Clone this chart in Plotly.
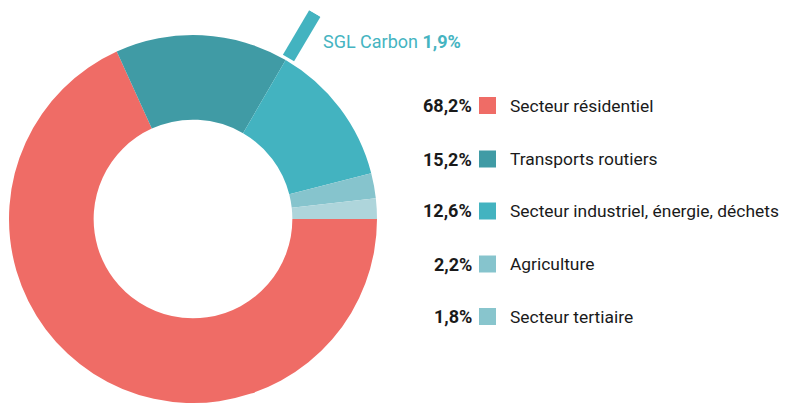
import math
import plotly.graph_objects as go

# ---- data ----
sectors = ["Secteur résidentiel", "Transports routiers",
           "Secteur industriel, énergie, déchets", "Agriculture", "Secteur tertiaire"]
shares = [68.2, 15.2, 12.6, 2.2, 1.8]
share_labels = ["68,2%", "15,2%", "12,6%", "2,2%", "1,8%"]
slice_colors = ["#EF6C66", "#409BA5", "#43B3C0", "#86C4CD", "#AED5DB"]
legend_colors = ["#EF6C66", "#409BA5", "#43B3C0", "#86C4CD", "#88C5CD"]
sgl_name = "SGL Carbon"
sgl_share = 1.9
sgl_label = "1,9%"
sgl_color = "#43B3C0"

OFF = 8  # page body margin
W, H = 793 - OFF, 403 - OFF
FONT = "Roboto"

def px(x):
    return (x - OFF) / W

def py(y):
    return 1 - (y - OFF) / H

# donut: centre (193, 219) on screen, radius 184
CX, CY, R = 193, 219, 184
dom_x = [px(CX - R), px(CX + R)]
dom_y = [max(0, py(CY + R)), py(CY - R)]

fig = go.Figure()
fig.add_trace(go.Pie(
    labels=sectors, values=shares, sort=False, direction="clockwise",
    rotation=90, hole=0.54, domain=dict(x=dom_x, y=dom_y),
    marker=dict(colors=slice_colors, line=dict(color="white", width=0)),
    textinfo="none", hoverinfo="label+percent", showlegend=False,
))

# SGL Carbon callout bar: sits on the start of the industrial slice
start_industrial = sum(shares[:2]) / sum(shares) * 360
RMAX = 1.3
SECT = 62
pr = R * RMAX
fig.add_trace(go.Scatterpolar(
    r=[1.018, 1.30], theta=[start_industrial + 0.4, start_industrial + 0.4],
    mode="lines", line=dict(color=sgl_color, width=13),
    cliponaxis=False, showlegend=False, hoverinfo="skip",
))

fig.update_layout(
    width=W, height=H, margin=dict(l=0, r=0, t=0, b=0),
    paper_bgcolor="white", plot_bgcolor="white",
    font=dict(family=FONT, color="#1a1a1a"),
    polar=dict(
        domain=dict(x=[px(CX), px(CX + pr)],
                    y=[py(CY), min(1, py(CY - pr * math.sin(math.radians(SECT))))]),
        sector=[0, SECT], hole=0, bgcolor="rgba(0,0,0,0)",
        radialaxis=dict(range=[0, RMAX], visible=False, showgrid=False),
        angularaxis=dict(rotation=0, direction="clockwise", visible=False, showgrid=False),
    ),
)

# legend rows
row_y = [105.5, 159, 211, 264, 316.5]
shapes = []
annotations = []
for yv, lab, pct, col in zip(row_y, sectors, share_labels, legend_colors):
    annotations.append(dict(
        x=px(474), y=py(yv), xref="paper", yref="paper", xanchor="right", yanchor="middle",
        text=f"<b>{pct}</b>", showarrow=False, font=dict(size=18, color="#1a1a1a", family=FONT)))
    shapes.append(dict(
        type="rect", xref="paper", yref="paper",
        x0=px(479), x1=px(496), y0=py(yv - 8.5), y1=py(yv + 8.5),
        fillcolor=col, line=dict(width=0)))
    annotations.append(dict(
        x=px(508), y=py(yv), xref="paper", yref="paper", xanchor="left", yanchor="middle",
        text=lab, showarrow=False, font=dict(size=17.4, color="#1a1a1a", family=FONT)))

annotations.append(dict(
    x=px(321), y=py(41), xref="paper", yref="paper", xanchor="left", yanchor="middle",
    text=f"{sgl_name} <b>{sgl_label}</b>", showarrow=False,
    font=dict(size=18, color="#45B4C1", family=FONT)))

fig.update_layout(shapes=shapes, annotations=annotations)
fig.write_html("out.html")
